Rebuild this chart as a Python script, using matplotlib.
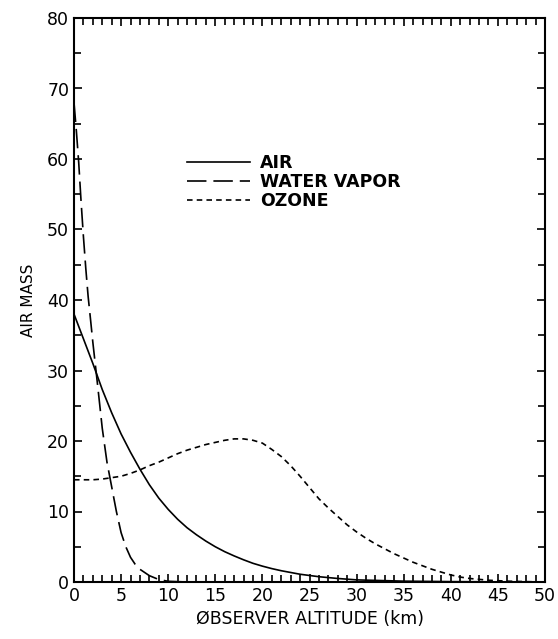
import numpy as np
import matplotlib
matplotlib.use("Agg")
import matplotlib.pyplot as plt
from matplotlib.ticker import MultipleLocator

# valeurs
alt_air = [0, 1, 2, 3, 4, 5, 6, 7, 8, 9, 10, 11, 12, 13, 14, 15, 16, 17, 18, 19, 20, 21, 22, 24, 26, 28, 30, 35, 40, 45, 50]
air = [38, 34.5, 31, 27.3, 24, 21, 18.4, 16, 13.8, 11.9, 10.3, 8.9, 7.7, 6.7, 5.8, 5.0, 4.3, 3.7, 3.15, 2.65, 2.25, 1.9, 1.6, 1.1, 0.75, 0.5, 0.3, 0.12, 0.05, 0.02, 0]

alt_h2o = [0, 0.25, 0.5, 0.75, 1, 1.25, 1.5, 1.75, 2, 2.5, 3, 3.5, 4, 4.5, 5, 5.5, 6, 6.5, 7, 8, 9, 10, 12]
h2o = [68, 64, 59.5, 54, 49, 44.5, 40.5, 37.3, 34, 28, 21.8, 17, 13.5, 10, 7, 5, 3.5, 2.5, 1.8, 0.9, 0.35, 0.1, 0]

alt_o3 = [0, 2, 3, 4, 5, 6, 7, 8, 9, 10, 11, 12, 13, 14, 15, 16, 17, 18, 19, 20, 21, 22, 23, 24, 25, 26, 27,
          28, 29, 30, 31, 32, 33, 34, 35, 36, 37, 38, 39, 40, 41, 42, 44, 46, 48, 50]
o3 = [14.5, 14.5, 14.6, 14.8, 15.0, 15.4, 15.9, 16.5, 17.0, 17.6, 18.2, 18.7, 19.1, 19.5, 19.8, 20.1, 20.3, 20.3, 20.1, 19.7, 18.8, 17.8, 16.5, 15.0, 13.4, 11.8, 10.5,
      9.3, 8.1, 7.1, 6.2, 5.4, 4.7, 4.0, 3.4, 2.8, 2.3, 1.8, 1.4, 1.0, 0.7, 0.5, 0.25, 0.12, 0.05, 0.0]

plt.rcParams['lines.scale_dashes'] = False
plt.rcParams['font.family'] = 'DejaVu Sans'

fig = plt.figure(figsize=(5.58, 6.39), dpi=100)
ax = fig.add_axes([74/558, 57/639, 471/558, 564/639])

ax.plot(alt_air, air, color='black', lw=1.2, label='AIR')
ax.plot(alt_h2o, h2o, color='black', lw=1.2, dashes=(14, 5), label='WATER VAPOR')
ax.plot(alt_o3, o3, color='black', lw=1.2, dashes=(4, 3), label='OZONE')

ax.set_xlim(0, 50)
ax.set_ylim(0, 80)
ax.xaxis.set_major_locator(MultipleLocator(5))
ax.xaxis.set_minor_locator(MultipleLocator(1))
ax.yaxis.set_major_locator(MultipleLocator(10))
ax.yaxis.set_minor_locator(MultipleLocator(5))
ax.tick_params(which='both', direction='in', top=True, right=True, width=1.2, labelsize=12.5)
ax.tick_params(which='major', length=6)
ax.tick_params(which='minor', length=5)
for s in ax.spines.values():
    s.set_linewidth(1.5)

ax.set_xlabel('ØBSERVER ALTITUDE (km)', fontsize=12.5, labelpad=4)
ax.set_ylabel('AIR MASS', fontsize=11, labelpad=8)

leg = ax.legend(loc='upper left', bbox_to_anchor=(0.24, 0.758), frameon=False,
                handlelength=3.6, handletextpad=0.6, labelspacing=0.05,
                borderpad=0, borderaxespad=0, prop={'size': 12.5, 'weight': 'bold'})

fig.savefig('out.png', dpi=100)
